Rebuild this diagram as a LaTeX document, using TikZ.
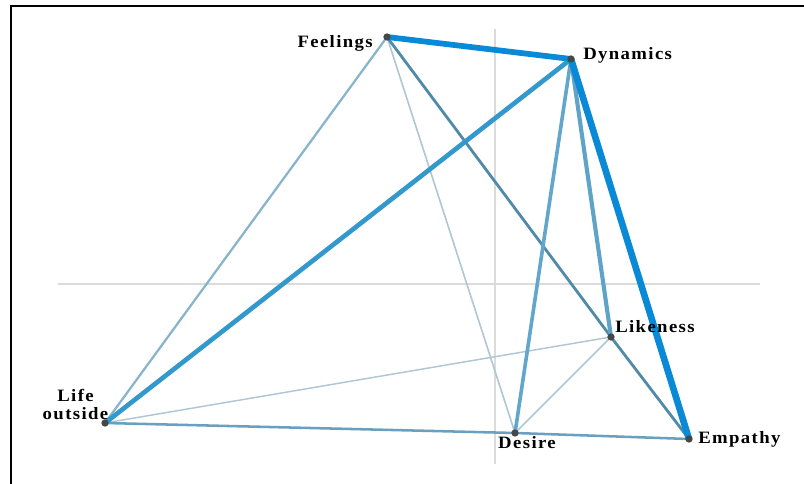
\documentclass[tikz,border=0pt]{standalone}
\usepackage{fontspec}
\setmainfont{Liberation Serif}
\usepackage{xcolor}
\usepackage{tikz}
\definecolor{bstrong}{HTML}{0A8AD6}
\definecolor{bmid}{HTML}{3399CC}
\definecolor{blight}{HTML}{62A6CC}
\definecolor{bteal}{HTML}{4F8BA8}
\definecolor{bpale}{HTML}{88B4CC}
\definecolor{bfaint}{HTML}{AFC7D4}
\definecolor{bedge}{HTML}{6A9FBF}

\begin{document}
\begin{tikzpicture}[x=0.75pt,y=-0.75pt,
    lbl/.style={inner sep=0pt,font=\fontsize{13}{13.5}\selectfont\bfseries\addfontfeature{FakeStretch=1.08,LetterSpace=8}},
    dot/.style={circle,fill=black!72,inner sep=0pt,minimum size=5.5pt}]
    \useasboundingbox (0,0) rectangle (804,484);
    \draw[line width=1.6pt] (11,484) -- (11,6) -- (804,6);
    % axes
    \draw[black!14,line width=0.9pt] (58,284) -- (760,284);
    \draw[black!14,line width=0.9pt] (495,29) -- (495,464);
    % concepts
    \coordinate (feel) at (387,37);
    \coordinate (dyn) at (571,59);
    \coordinate (life) at (105,423);
    \coordinate (like) at (611,337);
    \coordinate (des) at (515,433);
    \coordinate (emp) at (689,439);
    % links
    \draw[bfaint,line width=1.1pt] (life) -- (like);
    \draw[bfaint,line width=1.1pt] (des) -- (like);
    \draw[bfaint,line width=1.2pt] (feel) -- (des);
    \draw[bpale,line width=1.7pt] (feel) -- (life);
    \draw[bedge,line width=1.9pt] (life) -- (des);
    \draw[bedge,line width=1.9pt] (des) -- (emp);
    \draw[bteal,line width=2.1pt] (feel) -- (like);
    \draw[bteal,line width=2.1pt] (like) -- (emp);
    \draw[blight,line width=2.7pt] (dyn) -- (des);
    \draw[blight!90!bteal,line width=3.1pt] (dyn) -- (like);
    \draw[bmid,line width=3.5pt] (dyn) -- (life);
    \draw[bstrong,line width=4.3pt] (feel) -- (dyn);
    \draw[bstrong,line width=5pt] (dyn) -- (emp);
    \node[dot] (feelD) at (feel) {};
    \node[dot] (dynD) at (dyn) {};
    \node[dot] (lifeD) at (life) {};
    \node[dot] (likeD) at (like) {};
    \node[dot] (desD) at (des) {};
    \node[dot] (empD) at (emp) {};
    % labels
    \node[lbl,anchor=base east] (feelT) at (373,48) {Feelings};
    \node[lbl,anchor=base west] (dynT) at (583,60) {Dynamics};
    \node[lbl,anchor=base west] (likeT) at (615,333) {Likeness};
    \node[lbl,anchor=base,align=center] (lifeT) at (75.5,420) {Life\\outside};
    \node[lbl,anchor=base] (desT) at (527,449) {Desire};
    \node[lbl,anchor=base west] (empT) at (698,444) {Empathy};
\end{tikzpicture}
\end{document}
